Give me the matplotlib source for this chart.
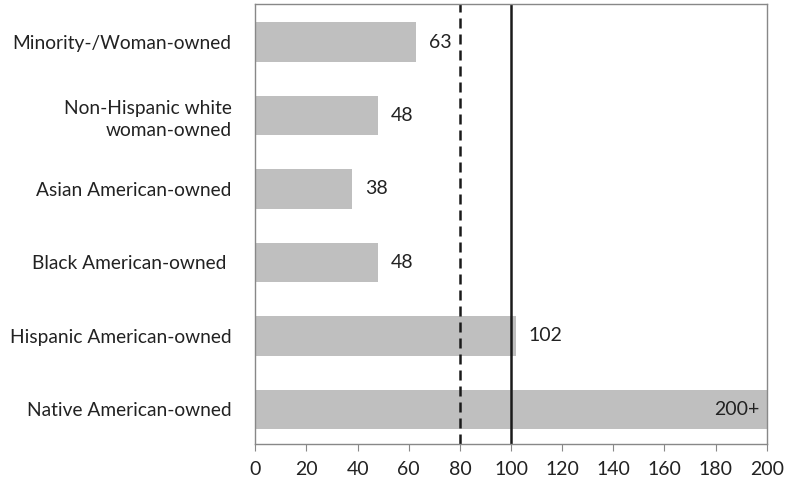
import matplotlib
matplotlib.use('Agg')
import matplotlib.pyplot as plt

categories = ["Minority-/Woman-owned", "Non-Hispanic white\nwoman-owned",
              "Asian American-owned", "Black American-owned ",
              "Hispanic American-owned", "Native American-owned"]
values = [63, 48, 38, 48, 102, 200]
value_labels = ["63", "48", "38", "48", "102", "200+"]
x_ticks = list(range(0, 201, 20))
dashed_at = 80
solid_at = 100

plt.rcParams['font.family'] = ['Lato', 'DejaVu Sans']

fig = plt.figure(figsize=(7.88, 4.83), dpi=100)
ax = fig.add_axes([0.324, 0.081, 0.649, 0.911])

pos = list(range(len(categories)))
ax.barh(pos, values, height=0.54, color='#bfbfbf', zorder=1)
ax.axvline(dashed_at, color='#1a1a1a', lw=1.8, ls=(0, (4, 2.4)), zorder=2)
ax.axvline(solid_at, color='#1a1a1a', lw=1.8, zorder=2)

for p, v, lab in zip(pos, values, value_labels):
    if v >= 200:
        ax.text(v - 3, p, lab, ha='right', va='center', fontsize=14, color='#222222', zorder=3)
    else:
        ax.text(v + 5, p, lab, ha='left', va='center', fontsize=14, color='#222222', zorder=3)

ax.set_xlim(0, 200)
ax.set_ylim(5.47, -0.52)
ax.set_xticks(x_ticks)
ax.set_yticks(pos)
ax.set_yticklabels(categories, fontsize=13.8, color='#222222', linespacing=1.35)
ax.tick_params(axis='y', length=0, pad=17)
ax.tick_params(axis='x', direction='out', length=5, color='#888888', labelsize=14,
               labelcolor='#222222', pad=7)
for t in ax.get_yticklabels():
    t.set_multialignment('right')
for s in ax.spines.values():
    s.set_color('#888888')
    s.set_linewidth(1.0)

fig.savefig('out.png', dpi=100)
